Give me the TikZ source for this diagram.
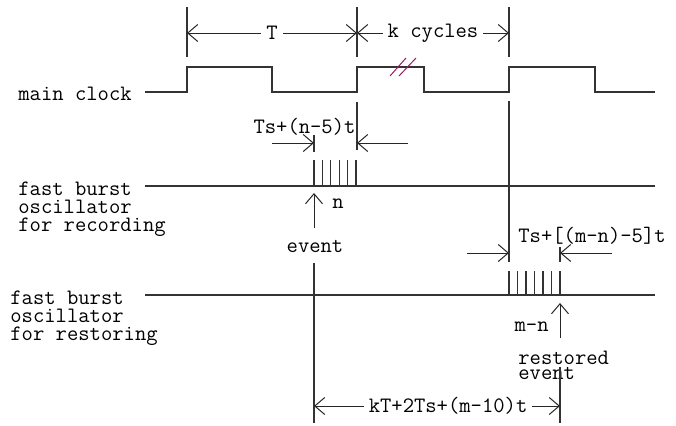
\documentclass[tikz,border=0pt]{standalone}
\usepackage{fontspec}
\usetikzlibrary{arrows.meta}
\definecolor{slashred}{HTML}{982062}
\tikzset{
  sig/.style={draw=black!80, line width=0.6pt},
  guide/.style={draw=black!80, line width=0.55pt},
  barb/.tip={Straight Barb[length=5pt,width=8.5pt]},
  toarr/.style={draw=black!85, line width=0.5pt, -barb},
  dimarr/.style={draw=black!85, line width=0.5pt, barb-barb},
  lbl/.style={font={\ttfamily\fontsize{11}{9.1}\selectfont\lineskiplimit-9pt},
    inner sep=0pt, align=left},
  lbltight/.style={lbl, font={\ttfamily\fontsize{11}{7.2}\selectfont\lineskiplimit-9pt}},
  dimlbl/.style={font=\ttfamily\fontsize{11}{13}\selectfont, fill=white,
    inner xsep=2.5pt, inner ysep=1pt}
}
\begin{document}
\begin{tikzpicture}[x=0.5pt,y=-0.5pt]
  \useasboundingbox (0,0) rectangle (676,425);
  \def\yhi{67} \def\ylo{92} \def\yrec{186} \def\yres{295}
  % signal names
  \node[lbl, anchor=base west] (clk) at (18,100) {main clock};
  \node[lbl, anchor=north west] (rec) at (18,181.5) {fast burst\\oscillator\\for recording};
  \node[lbl, anchor=north west] (res) at (10,290.5) {fast burst\\oscillator\\for restoring};
  % main clock
  \draw[sig] (145,\ylo) -- (187,\ylo) |- (272,\yhi) |- (357,\ylo) |- (424,\yhi)
    |- (509,\ylo) |- (595,\yhi) |- (655,\ylo);
  \draw[slashred, line width=0.5pt] (390,76) -- (406,58) (399,76) -- (416,58);
  % period guides
  \foreach \x in {187,357,509}
    \draw[guide] (\x,7) -- (\x,57);
  \draw[guide] (357,102) -- (357,150);
  \draw[guide] (509,101) -- (509,262);
  \coordinate (dA) at (187,33);
  \coordinate (dB) at (357,33);
  \coordinate (dC) at (509,33);
  \draw[dimarr] (dA) -- (dB) node[dimlbl, midway] (lT) {T};
  \draw[dimarr] (dB) -- (dC) node[dimlbl, midway] (lk) {k cycles};
  % recording burst
  \draw[sig] (145,\yrec) -- (655,\yrec);
  \foreach \i in {0,...,5}{
    \pgfmathsetmacro\x{314+\i*8.4}
    \draw[sig] (\x,160) -- (\x,\yrec);
  }
  \draw[guide] (314,135) -- (314,152);
  \coordinate (wrL) at (314,143);
  \coordinate (wrR) at (357,143);
  \draw[toarr] (272,143) -- (wrL);
  \draw[toarr] (408,143) -- (wrR);
  \node[lbl, anchor=base] (wrec) at (304.5,133) {Ts+(n-5)t};
  % event
  \coordinate (ev) at (314,193);
  \draw[toarr] (314,228) -- (ev);
  \node[lbl, anchor=base west] (cntn) at (332,208) {n};
  \node[lbl, anchor=base] (evlbl) at (315,252) {event};
  \draw[guide] (314,263) -- (314,423);
  % restoring burst
  \draw[sig] (145,\yres) -- (655,\yres);
  \foreach \i in {0,...,6}{
    \pgfmathsetmacro\x{509+\i*8.5}
    \draw[sig] (\x,271) -- (\x,\yres);
  }
  \draw[guide] (560,247) -- (560,262);
  \coordinate (wsL) at (509,253);
  \coordinate (wsR) at (560,253);
  \draw[toarr] (467,253) -- (wsL);
  \draw[toarr] (612,253) -- (wsR);
  \node[lbl, anchor=base west] (wres) at (518,242) {Ts+[(m-n)-5]t};
  % restored event
  \coordinate (rev) at (560,303);
  \draw[toarr] (560,338) -- (rev);
  \node[lbl, anchor=base east] (cntm) at (549,331) {m-n};
  \node[lbltight, anchor=north west] (rslbl) at (518,351) {restored\\event};
  \draw[guide] (560,367) -- (560,423);
  % total delay
  \coordinate (tL) at (314,406);
  \coordinate (tR) at (560,406);
  \draw[dimarr] (tL) -- (tR) node[dimlbl, pos=0.545] (ltot) {kT+2Ts+(m-10)t};
\end{tikzpicture}
\end{document}
